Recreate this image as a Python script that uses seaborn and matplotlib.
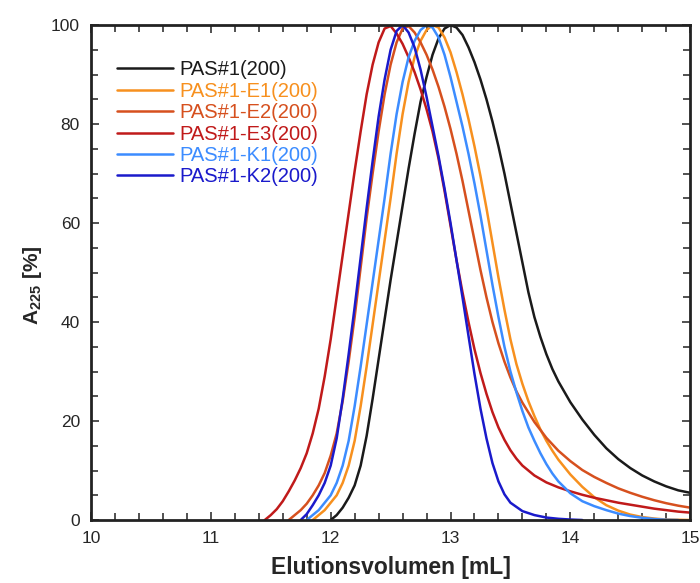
import matplotlib
matplotlib.use("Agg")
import matplotlib.pyplot as plt
from matplotlib.ticker import MultipleLocator
import seaborn as sns
import pandas as pd

# ---- data ----
series_names = ["PAS#1(200)", "PAS#1-E1(200)", "PAS#1-E2(200)", "PAS#1-E3(200)",
                "PAS#1-K1(200)", "PAS#1-K2(200)"]

pas1_x = [12.00, 12.05, 12.10, 12.15, 12.20, 12.25, 12.30, 12.35, 12.40, 12.45, 12.50, 12.55, 12.60,
          12.65, 12.70, 12.75, 12.80, 12.85, 12.90, 12.95, 13.00, 13.05, 13.10, 13.15, 13.20, 13.25,
          13.30, 13.35, 13.40, 13.45, 13.50, 13.55, 13.60, 13.65, 13.70, 13.75, 13.80, 13.85, 13.90,
          14.00, 14.10, 14.20, 14.30, 14.40, 14.50, 14.60, 14.70, 14.80, 14.90, 15.00]
pas1_y = [0, 1, 2.5, 4.5, 7, 11, 17, 24.5, 32.5, 40.5, 48.5, 56, 63.5,
          71, 78, 84.5, 89.5, 94, 97.3, 99.3, 100, 99.5, 98, 95.5, 92.5, 89,
          85, 80.5, 75.5, 70, 64, 58, 52, 46, 41, 37, 33.5, 30.5, 28,
          23.8, 20.3, 17.2, 14.5, 12.3, 10.5, 9.0, 7.8, 6.8, 6.0, 5.5]

e1_x = [11.85, 11.90, 11.95, 12.00, 12.05, 12.10, 12.15, 12.20, 12.25, 12.30, 12.35, 12.40, 12.45,
        12.50, 12.55, 12.60, 12.65, 12.70, 12.75, 12.80, 12.85, 12.90, 12.95, 13.00, 13.05, 13.10,
        13.15, 13.20, 13.25, 13.30, 13.35, 13.40, 13.45, 13.50, 13.55, 13.60, 13.65, 13.70, 13.75,
        13.80, 13.85, 13.90, 14.00, 14.10, 14.20, 14.30, 14.40, 14.50, 14.60, 14.70, 14.80, 15.00]
e1_y = [0, 1, 2, 3.5, 5, 7.5, 11, 16, 23, 31, 39.5, 48, 56.5,
        65, 74, 82, 88.5, 93.5, 96.8, 99, 100, 99.5, 97.5, 94.5, 90.5, 86,
        81, 75.5, 69.5, 63, 56, 49, 42.5, 36.5, 31.5, 27.5, 24, 21, 18.3,
        16, 14, 12.2, 9.2, 6.7, 4.6, 3, 1.9, 1.1, 0.6, 0.3, 0.1, 0]

e2_x = [11.65, 11.70, 11.75, 11.80, 11.85, 11.90, 11.95, 12.00, 12.05, 12.10, 12.15, 12.20, 12.25,
        12.30, 12.35, 12.40, 12.45, 12.50, 12.55, 12.60, 12.65, 12.70, 12.75, 12.80, 12.85, 12.90,
        12.95, 13.00, 13.05, 13.10, 13.15, 13.20, 13.25, 13.30, 13.35, 13.40, 13.45, 13.50, 13.55,
        13.60, 13.70, 13.80, 13.90, 14.00, 14.10, 14.20, 14.30, 14.40, 14.50, 14.60, 14.70, 14.80,
        14.90, 15.00]
e2_y = [0, 1, 2, 3.3, 5, 7, 9.5, 13, 17.5, 24, 32, 41, 51,
        61, 70, 78.5, 86, 92, 96.5, 99.3, 99.8, 98.5, 96.5, 94, 91, 87.5,
        83.5, 79, 74, 68.5, 62.5, 56.5, 50.5, 45, 40, 35.7, 32, 28.8, 26,
        23.7, 19.8, 16.6, 14, 11.9, 10.1, 8.7, 7.5, 6.4, 5.5, 4.7, 4.0, 3.4,
        2.9, 2.5]

e3_x = [11.45, 11.50, 11.55, 11.60, 11.65, 11.70, 11.75, 11.80, 11.85, 11.90, 11.95, 12.00, 12.05,
        12.10, 12.15, 12.20, 12.25, 12.30, 12.35, 12.40, 12.45, 12.50, 12.55, 12.60, 12.65, 12.70,
        12.75, 12.80, 12.85, 12.90, 12.95, 13.00, 13.05, 13.10, 13.15, 13.20, 13.25, 13.30, 13.35,
        13.40, 13.45, 13.50, 13.55, 13.60, 13.70, 13.80, 13.90, 14.00, 14.10, 14.20, 14.30, 14.40,
        14.50, 14.60, 14.70, 14.80, 14.90, 15.00]
e3_y = [0, 1, 2.2, 3.8, 5.8, 8, 10.5, 13.5, 17.5, 22.5, 29, 36.5, 45,
        53.5, 62, 70.5, 78.5, 86, 92, 96.5, 99.3, 99.8, 98.3, 96.2, 93.5, 90.5,
        87, 83, 78.5, 73, 66.5, 59.5, 52.5, 46, 40, 34.5, 29.7, 25.5, 21.8,
        18.7, 16.2, 14.1, 12.4, 11, 9, 7.6, 6.6, 5.8, 5.1, 4.5, 4, 3.5,
        3.1, 2.7, 2.3, 2, 1.7, 1.5]

k1_x = [11.80, 11.85, 11.90, 11.95, 12.00, 12.05, 12.10, 12.15, 12.20, 12.25, 12.30, 12.35, 12.40,
        12.45, 12.50, 12.55, 12.60, 12.65, 12.70, 12.75, 12.80, 12.85, 12.90, 12.95, 13.00, 13.05,
        13.10, 13.15, 13.20, 13.25, 13.30, 13.35, 13.40, 13.45, 13.50, 13.55, 13.60, 13.65, 13.70,
        13.75, 13.80, 13.85, 13.90, 14.00, 14.10, 14.20, 14.30, 14.40, 14.50, 14.60, 14.70, 14.80,
        14.90]
k1_y = [0, 1, 2, 3.5, 5, 7.5, 11, 16, 23, 31, 39.5, 48, 56.5,
        65, 74, 82, 88.5, 93.5, 96.8, 99, 100, 99.5, 97.5, 94, 89.5, 84.5,
        79.5, 74, 68, 61.5, 54.5, 47.5, 41, 35, 30, 25.8, 22, 18.7, 16,
        13.5, 11.3, 9.4, 7.8, 5.4, 3.8, 2.8, 2.0, 1.3, 0.8, 0.45, 0.2, 0.05,
        0]

k2_x = [11.75, 11.80, 11.85, 11.90, 11.95, 12.00, 12.05, 12.10, 12.15, 12.20, 12.25, 12.30, 12.35,
        12.40, 12.45, 12.50, 12.55, 12.60, 12.65, 12.70, 12.75, 12.80, 12.85, 12.90, 12.95, 13.00,
        13.05, 13.10, 13.15, 13.20, 13.25, 13.30, 13.35, 13.40, 13.45, 13.50, 13.60, 13.70, 13.80,
        13.90, 14.00, 14.10]
k2_y = [0, 1.2, 3, 5, 7.5, 11, 16.5, 24.5, 33.5, 43, 53, 63, 72.5,
        81.5, 89, 95, 98.8, 100, 98.5, 95.5, 91, 85.5, 79.5, 73.5, 67, 60,
        52.5, 45, 37.2, 29.5, 22.5, 16.5, 11.5, 7.8, 5.2, 3.5, 1.8, 1.0, 0.5,
        0.25, 0.1, 0]

x_ticks = [10, 11, 12, 13, 14, 15]
y_ticks = [0, 20, 40, 60, 80, 100]

colors = {
    "PAS#1(200)": "#1a1a1a",
    "PAS#1-E1(200)": "#F7901E",
    "PAS#1-E2(200)": "#D6501E",
    "PAS#1-E3(200)": "#C01A1A",
    "PAS#1-K1(200)": "#3C8CFF",
    "PAS#1-K2(200)": "#1A1ACB",
}

xs = [pas1_x, e1_x, e2_x, e3_x, k1_x, k2_x]
ys = [pas1_y, e1_y, e2_y, e3_y, k1_y, k2_y]
frames = []
for name, x, y in zip(series_names, xs, ys):
    frames.append(pd.DataFrame({"vol": x, "abs": y, "sample": name}))
df = pd.concat(frames, ignore_index=True)

# ---- plot ----
sns.set_style("ticks")
plt.rcParams["font.family"] = ["Liberation Sans", "DejaVu Sans"]
plt.rcParams["mathtext.fontset"] = "custom"
plt.rcParams["mathtext.rm"] = "Liberation Sans"
plt.rcParams["mathtext.bf"] = "Liberation Sans:bold"

fig = plt.figure(figsize=(7.0, 5.83), dpi=100)
ax = fig.add_axes([0.13, 0.108, 0.856, 0.849])

sns.lineplot(data=df, x="vol", y="abs", hue="sample", hue_order=series_names,
             palette=colors, sort=False, estimator=None, units="sample",
             linewidth=1.8, ax=ax, legend=True)

ax.set_xlim(10, 15)
ax.set_ylim(0, 100)
ax.set_xticks(x_ticks)
ax.set_yticks(y_ticks)
ax.xaxis.set_minor_locator(MultipleLocator(0.2))
ax.yaxis.set_minor_locator(MultipleLocator(5))
ax.tick_params(which="both", direction="in", top=True, right=True, width=1.2, color="#333333")
ax.tick_params(which="major", length=6, labelsize=12.5, pad=8)
ax.tick_params(which="minor", length=5)
for s in ax.spines.values():
    s.set_linewidth(2)
    s.set_color("#222222")

ax.set_xlabel("Elutionsvolumen [mL]", fontsize=16.5, fontweight="bold", labelpad=7)
ax.set_ylabel(r"$\mathbf{A}_{\mathbf{225}}$ [%]", fontsize=15, fontweight="bold")
ax.yaxis.set_label_coords(-0.078, 0.475)

leg = ax.legend(loc="upper left", bbox_to_anchor=(0.03, 0.945), frameon=False,
                fontsize=14.5, handlelength=2.8, handletextpad=0.3, labelspacing=0.12,
                borderaxespad=0)
for txt, name in zip(leg.get_texts(), series_names):
    txt.set_color(colors[name])
for line in leg.get_lines():
    line.set_linewidth(1.8)

fig.savefig("out.png", dpi=100)
